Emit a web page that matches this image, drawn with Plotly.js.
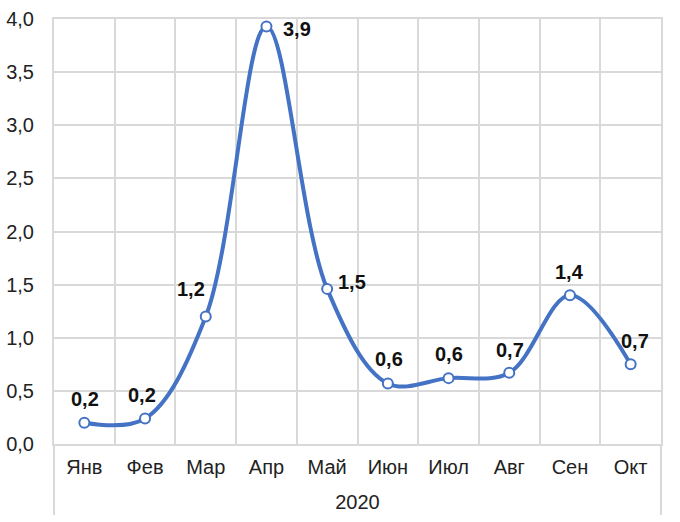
<!DOCTYPE html>
<html><head><meta charset="utf-8">
<script src="https://cdn.plot.ly/plotly-3.0.1.min.js"></script>
<style>html,body{margin:0;padding:0;background:#fff}#chart{width:680px;height:522px}</style>
</head><body><div id="chart"></div>
<script>
const months = ['Янв','Фев','Мар','Апр','Май','Июн','Июл','Авг','Сен','Окт'];
const values = [0.20, 0.24, 1.20, 3.93, 1.46, 0.57, 0.62, 0.67, 1.40, 0.75];
const valueLabels = ['0,2','0,2','1,2','3,9','1,5','0,6','0,6','0,7','1,4','0,7'];
const yearLabel = '2020';

// label offsets (px) relative to each point
const labelShift = [
  [1,24],[-3,24],[-15,28],[31,-3],[25,7],[1,24],[0,24],[1,23],[0,23],[4,23]
];

const font = "Liberation Sans, Arial, sans-serif";
const blue = '#4472c4';
const grid = '#d9d9d9';

const trace = {
  x: months, y: values, type: 'scatter', mode: 'lines+markers',
  line: {shape: 'spline', smoothing: 1, color: blue, width: 4},
  marker: {size: 10, color: '#ffffff', line: {color: blue, width: 2}},
  hoverinfo: 'skip'
};

const annotations = months.map((m, i) => ({
  x: m, y: values[i], xref: 'x', yref: 'y', text: valueLabels[i],
  showarrow: false, xshift: labelShift[i][0], yshift: labelShift[i][1],
  font: {family: font, size: 20, color: '#111', weight: 'bold'}
}));

const layout = {
  width: 680, height: 522,
  margin: {l: 54, r: 19, t: 19, b: 78},
  paper_bgcolor: '#fff', plot_bgcolor: '#fff',
  separators: ', ',
  showlegend: false,
  font: {family: font, size: 20, color: '#222'},
  xaxis: {
    type: 'category', range: [-0.5, 9.5], tickson: 'boundaries',
    showgrid: true, gridcolor: grid, gridwidth: 2,
    showline: true, linecolor: grid, linewidth: 2, mirror: true,
    ticks: '', ticklen: 0, ticklabelstandoff: 4,
    tickfont: {family: font, size: 20, color: '#222'},
    title: {text: yearLabel, font: {family: font, size: 20, color: '#222'}, standoff: 18},
    fixedrange: true
  },
  yaxis: {
    range: [0, 4], dtick: 0.5, tick0: 0, tickformat: '.1f',
    showgrid: true, gridcolor: grid, gridwidth: 2,
    zeroline: true, zerolinecolor: grid, zerolinewidth: 2,
    showline: true, linecolor: grid, linewidth: 2, mirror: true,
    ticks: '', ticklabelstandoff: 14,
    tickfont: {family: font, size: 20, color: '#222'},
    fixedrange: true
  },
  shapes: [
    {type: 'line', xref: 'paper', yref: 'paper', x0: 0, x1: 0, y0: 0, y1: -0.167, line: {color: grid, width: 2}},
    {type: 'line', xref: 'paper', yref: 'paper', x0: 1, x1: 1, y0: 0, y1: -0.167, line: {color: grid, width: 2}}
  ],
  annotations: annotations
};

Plotly.newPlot('chart', [trace], layout, {displayModeBar: false, staticPlot: true});
</script></body></html>
